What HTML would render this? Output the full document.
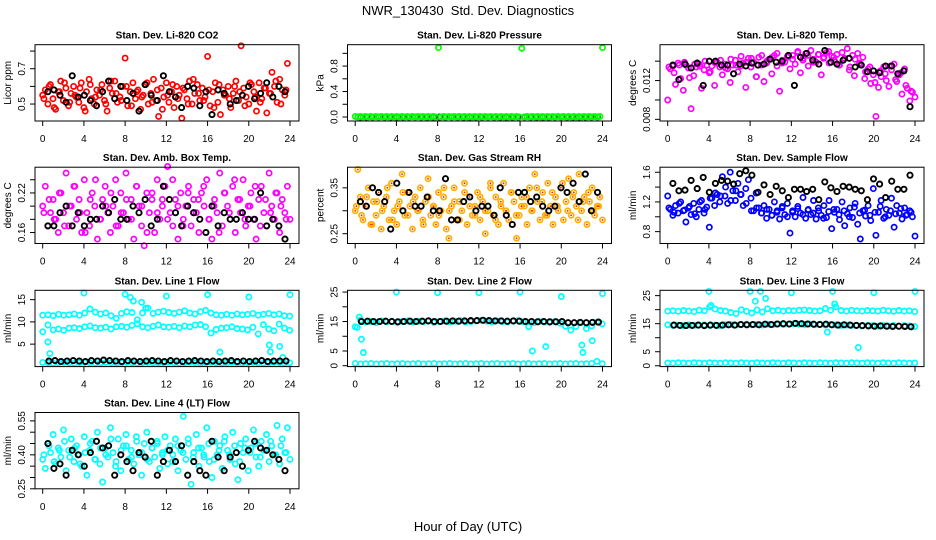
<!DOCTYPE html>
<html><head><meta charset="utf-8"><title>NWR_130430 Std. Dev. Diagnostics</title>
<style>
html,body{margin:0;padding:0;background:#fff;}
svg{display:block;font-family:"Liberation Sans",sans-serif;}
</style></head>
<body>
<svg id="chart" width="936" height="540" viewBox="0 0 936 540">
<text x="468" y="15" font-size="13" text-anchor="middle">NWR_130430&#160; Std. Dev. Diagnostics</text>
<text x="468" y="531" font-size="13" text-anchor="middle">Hour of Day (UTC)</text>
</svg>
<script>
// ---- data (read/estimated from the reference) ----
const xTicks = [0,4,8,12,16,20,24];
const co2Red = [0.55,0.58,0.50,0.61,0.53,0.47,0.57,0.63,0.52,0.59,0.49,0.56,0.60,0.54,0.51,0.62,0.48,0.57,0.64,0.53,0.50,0.58,0.55,0.61,
0.52,0.46,0.59,0.56,0.63,0.51,0.54,0.60,0.76,0.49,0.57,0.62,0.53,0.58,0.47,0.55,0.61,0.50,0.56,0.64,0.52,0.43,0.59,0.54,
0.62,0.51,0.57,0.48,0.60,0.55,0.42,0.58,0.53,0.63,0.50,0.56,0.61,0.52,0.59,0.54,0.77,0.49,0.57,0.62,0.51,0.44,0.58,0.55,
0.60,0.48,0.56,0.63,0.52,0.83,0.59,0.54,0.50,0.61,0.57,0.46,0.62,0.53,0.59,0.45,0.56,0.68,0.60,0.51,0.64,0.58,0.55,0.73];
const co2Red2 = [0.53,0.60,0.48,0.57,0.62,0.51,0.55,0.59,0.46,0.61,0.54,0.58,0.50,0.63,0.56,0.52,0.60,0.49,0.57,0.54,0.62,0.51,0.58,0.47,0.55,0.61,0.53,0.59,0.50,0.64,0.56,0.52,0.58,0.48,0.61,0.55,0.53,0.60,0.57,0.49,0.62,0.54,0.51,0.59,0.56,0.63,0.50,0.58];
const co2Black = [0.57,0.58,0.55,0.51,0.66,0.54,0.55,0.52,0.49,0.57,0.63,0.53,0.60,0.52,0.56,0.46,0.61,0.55,0.52,0.66,0.57,0.54,0.48,0.60,0.59,0.49,0.57,0.44,0.58,0.56,0.50,0.52,0.55,0.60,0.53,0.56,0.62,0.54,0.60,0.57];
const presGreen = [0.01,0.0,0.01,0.0,0.01,0.0,0.01,0.0,0.01,0.0,0.01,0.0,0.01,0.0,0.01,0.0,0.01,0.0,0.01,0.0,0.01,0.0,0.01,0.0,
0.01,0.0,0.01,0.0,0.01,0.0,0.01,0.0,1.09,0.0,0.01,0.0,0.01,0.0,0.01,0.0,0.01,0.0,0.01,0.0,0.01,0.0,0.01,0.0,
0.01,0.0,0.01,0.0,0.01,0.0,0.01,0.0,0.01,0.0,0.01,0.0,0.01,0.0,0.01,0.0,1.08,0.0,0.01,0.0,0.01,0.0,0.01,0.0,
0.01,0.0,0.01,0.0,0.01,0.0,0.01,0.0,0.01,0.0,0.01,0.0,0.01,0.0,0.01,0.0,0.01,0.0,0.01,0.0,0.01,0.0,0.01,1.09];
const presBlack = [0,0,0,0,0,0,0,0,0,0,0,0,0,0,0,0,0,0,0,0,0,0,0,0,0,0,0,0,0,0,0,0,0,0,0,0,0,0,0,0];
// Li-820 temperature, in units of 0.001 degC
const tempMagenta = [10.0,13.2,13.5,11.6,13.8,12.2,11.0,13.6,13.3,9.1,12.5,13.4,13.7,11.2,13.1,13.6,12.8,13.5,11.5,13.9,13.4,12.6,13.7,13.2,
11.8,13.6,14.1,12.9,13.5,13.8,11.3,14.3,13.4,13.9,12.4,14.4,13.6,11.9,13.8,14.2,12.7,14.6,13.5,10.9,14.1,13.9,14.4,13.2,
14.6,13.7,15.0,12.8,14.3,14.8,13.5,15.1,14.2,13.9,14.7,12.6,14.4,14.9,13.8,14.5,14.1,14.7,13.6,14.9,14.3,15.3,13.4,14.6,
14.2,14.8,13.7,14.4,12.9,13.2,11.7,12.6,8.3,11.3,12.4,13.4,12.0,11.4,13.1,13.7,11.9,12.6,10.6,13.2,11.2,9.9,10.8,10.3];
const tempMagenta2 = [13.4,12.8,13.6,13.9,12.3,13.7,13.5,14.0,12.9,13.8,14.1,13.3,14.2,13.6,14.5,13.9,14.3,12.4,14.6,14.0,14.4,14.8,13.8,14.5,14.2,14.9,14.1,14.6,13.9,14.7,14.3,15.0,14.4,13.6,14.2,13.1,12.5,13.8,12.2,13.4,11.8,13.0,12.7,13.5,12.1,12.8,11.5,10.9];
const tempBlack = [13.6,12.1,13.7,13.3,13.8,11.5,14.0,14.0,13.6,13.6,12.7,13.7,13.5,13.8,13.6,13.7,14.2,13.9,14.0,14.6,11.5,14.4,14.8,14.1,13.7,15.1,13.9,13.7,14.1,14.3,13.4,13.6,12.9,13.0,12.8,13.5,13.5,12.7,13.0,9.3];
const ambMagenta = [0.20,0.23,0.17,0.19,0.21,0.18,0.16,0.22,0.19,0.25,0.17,0.20,0.23,0.18,0.21,0.16,0.24,0.19,0.17,0.22,0.20,0.15,0.18,0.21,
0.23,0.19,0.16,0.20,0.24,0.17,0.22,0.19,0.25,0.18,0.21,0.15,0.23,0.20,0.17,0.14,0.22,0.19,0.21,0.16,0.24,0.18,0.20,0.23,
0.26,0.19,0.17,0.21,0.15,0.22,0.18,0.20,0.23,0.17,0.21,0.19,0.16,0.22,0.20,0.24,0.18,0.15,0.21,0.19,0.25,0.17,0.22,0.20,
0.18,0.23,0.16,0.21,0.19,0.24,0.17,0.20,0.22,0.18,0.15,0.21,0.23,0.19,0.17,0.25,0.20,0.18,0.22,0.16,0.21,0.19,0.23,0.18];
const ambMagenta2 = [0.19,0.21,0.18,0.22,0.17,0.20,0.23,0.19,0.16,0.21,0.24,0.18,0.20,0.22,0.17,0.19,0.21,0.18,0.23,0.20,0.16,0.22,0.19,0.21,0.18,0.24,0.20,0.17,0.22,0.19,0.21,0.23,0.18,0.20,0.16,0.22,0.19,0.24,0.21,0.18,0.20,0.23,0.17,0.21,0.19,0.22,0.20,0.18];
const ambBlack = [0.17,0.17,0.19,0.20,0.17,0.19,0.17,0.18,0.18,0.20,0.19,0.21,0.18,0.18,0.20,0.19,0.21,0.17,0.18,0.23,0.21,0.19,0.17,0.20,0.19,0.18,0.16,0.20,0.17,0.19,0.18,0.18,0.19,0.18,0.18,0.22,0.17,0.18,0.17,0.15];
const rhOrange = [0.30,0.39,0.33,0.28,0.31,0.35,0.27,0.32,0.29,0.34,0.26,0.31,0.33,0.28,0.36,0.30,0.27,0.32,0.38,0.29,0.34,0.31,0.26,0.33,
0.30,0.35,0.28,0.32,0.37,0.29,0.31,0.27,0.34,0.30,0.33,0.26,0.24,0.31,0.35,0.28,0.32,0.30,0.36,0.27,0.33,0.29,0.31,0.34,
0.28,0.32,0.25,0.30,0.35,0.29,0.33,0.27,0.31,0.36,0.30,0.28,0.34,0.32,0.24,0.29,0.33,0.31,0.27,0.35,0.30,0.38,0.32,0.28,
0.34,0.29,0.36,0.31,0.27,0.33,0.30,0.35,0.28,0.32,0.37,0.29,0.34,0.31,0.38,0.30,0.33,0.27,0.32,0.35,0.29,0.31,0.33,0.28];
const rhOrange2 = [0.31,0.29,0.33,0.27,0.32,0.30,0.35,0.28,0.31,0.34,0.29,0.32,0.30,0.27,0.33,0.31,0.29,0.35,0.30,0.32,0.28,0.34,0.31,0.29,0.33,0.30,0.36,0.28,0.32,0.30,0.34,0.29,0.31,0.33,0.30,0.35,0.32,0.29,0.34,0.31,0.36,0.30,0.33,0.28,0.32,0.34,0.30,0.31];
const rhBlack = [0.32,0.31,0.35,0.34,0.32,0.26,0.36,0.30,0.34,0.31,0.31,0.33,0.30,0.30,0.37,0.28,0.28,0.32,0.33,0.30,0.31,0.31,0.29,0.35,0.29,0.27,0.34,0.34,0.32,0.33,0.31,0.30,0.31,0.35,0.34,0.36,0.32,0.38,0.30,0.34];
const flowBlue = [1.28,1.10,1.02,1.15,1.05,1.20,1.08,0.93,1.12,1.03,1.18,1.00,1.10,1.22,1.05,1.13,0.86,1.25,1.15,1.30,1.20,1.54,1.28,1.18,
1.60,1.35,1.22,1.45,1.30,1.15,1.38,1.50,1.25,1.08,1.32,1.12,1.05,1.15,0.98,1.10,1.02,1.20,1.06,0.97,1.12,1.03,1.18,0.78,
1.08,1.00,1.14,1.05,1.26,0.98,1.10,1.03,1.22,0.97,1.08,1.02,1.15,0.99,1.22,0.84,1.06,1.10,0.96,1.20,0.88,1.04,1.12,0.99,
1.18,0.90,0.70,1.08,1.01,1.15,0.95,1.38,0.75,1.06,1.22,0.98,1.10,1.02,1.25,0.86,1.15,1.05,0.97,1.12,1.03,1.08,1.00,0.74];
const flowBlue2 = [1.12,1.06,1.18,1.09,1.14,1.04,1.20,1.10,1.25,1.32,1.28,1.40,1.22,1.35,1.30,1.18,1.08,1.12,1.05,1.10,1.02,1.08,1.14,1.00,1.06,1.11,1.03,1.09,1.05,1.12,0.98,1.07,1.10,1.03,1.08,1.00,1.13,1.05,1.09,1.02,1.06,1.14,1.00,1.08,1.04,1.11,1.02,1.06];
const flowBlack = [1.45,1.35,1.36,1.49,1.38,1.53,1.33,1.45,1.49,1.48,1.44,1.58,1.62,1.56,1.33,1.43,1.30,1.41,1.35,1.26,1.37,1.37,1.34,1.37,1.23,1.47,1.39,1.34,1.41,1.40,1.37,1.35,1.23,1.51,1.44,1.26,1.48,1.37,1.37,1.56];
const l1Upper = [11.5,11.6,11.4,11.7,11.5,11.6,11.8,11.5,12.0,12.9,12.2,11.8,12.0,11.4,10.8,11.9,12.3,12.1,10.5,12.0,13.1,11.9,12.2,12.4,12.1,11.9,12.2,12.5,12.0,11.8,12.3,12.6,12.0,11.6,11.5,11.7,11.5,11.8,11.6,11.7,11.9,11.5,11.7,11.9,11.6,11.8,11.4,11.3];
const l1Middle = [7.8,9.3,8.2,8.4,8.1,8.6,8.7,8.5,8.9,9.1,8.7,8.6,8.8,8.4,8.9,9.0,8.8,9.2,9.6,8.9,8.7,9.0,9.3,8.9,8.8,9.0,8.7,9.1,8.9,9.3,9.4,8.9,7.5,8.3,8.6,8.7,8.9,8.5,8.4,8.2,8.8,7.3,9.4,8.4,8.0,9.5,8.6,8.1];
const l1Lower = [0.9,0.8,0.7,0.8,0.9,0.8,0.7,0.8,0.9,0.8,0.7,0.8,0.9,0.8,0.7,0.8,0.9,0.8,0.7,0.8,0.9,0.8,0.7,0.8,0.9,0.8,0.7,0.8,0.9,0.8,0.7,0.8,0.9,0.8,0.7,0.8,0.9,0.8,0.7,0.8,0.9,0.8,0.7,0.8,0.9,0.8,0.7,0.8];
const l1OutHours = [0.5,0.7,4,8,8.5,8.8,9.6,10,12,16,17.2,20,22,22.1,23,23.3,24];
const l1OutVals = [5.5,2.9,16.5,16.2,15.5,14.7,14.4,13.1,15.8,16.1,3.2,15.6,4.8,3.3,4.5,2.0,16.1];
const l1Black = [1.2,1.3,1.1,1.2,1.3,1.2,1.1,1.3,1.2,1.4,1.3,1.2,1.1,1.3,1.2,1.1,1.2,1.3,1.2,1.1,1.3,1.2,1.1,1.2,1.3,1.2,1.1,1.2,1.1,1.2,1.3,1.1,1.2,1.1,1.2,1.3,1.1,1.2,1.2,1.2];
const l2Band = [13.2,15.5,14.8,15.0,14.6,15.2,14.9,15.1,14.7,15.0,15.2,14.8,15.1,14.9,15.3,14.7,15.0,15.2,14.9,15.1,15.3,14.8,15.0,15.2,15.4,15.1,14.9,15.2,15.0,14.8,15.1,15.3,14.9,13.2,14.6,15.0,14.8,14.7,15.0,14.4,13.4,12.1,13.3,14.6,12.6,13.5,14.8,14.2];
const l2Lower = [0.8,0.6,0.7,0.8,0.6,0.7,0.8,0.6,0.7,0.8,0.6,0.7,0.8,0.6,0.7,0.8,0.6,0.7,0.8,0.6,0.7,0.8,0.6,0.7,0.8,0.6,0.7,0.8,0.6,0.7,0.8,0.6,0.7,0.8,0.6,0.7,0.8,0.6,0.7,0.8,0.6,0.7,0.8,0.6,0.7,0.8,1.5,0.7];
const l2OutHours = [0.2,0.4,0.6,0.8,4,8,12,16,17.2,18.5,20,22,22.1,23,24];
const l2OutVals = [13,16.5,9,4.5,25,24.8,24.8,25,5,6.5,23.5,7,4.5,8.5,24.5];
const l2Black = [15.0,15.1,15.0,15.0,15.1,15.0,14.9,15.0,15.1,15.0,15.1,15.2,15.0,15.0,15.1,15.2,15.1,15.2,15.3,15.3,15.4,15.3,15.2,15.2,15.1,15.2,15.1,15.0,15.0,14.9,15.0,14.9,14.9,15.0,14.6,14.6,14.7,14.6,14.7,14.8];
const l3Upper = [19.5,19.6,19.4,19.7,19.5,19.3,19.8,19.6,21.0,20.2,19.7,19.5,19.0,18.6,20.0,19.4,18.8,19.9,19.2,20.3,19.6,19.8,19.5,19.7,19.6,19.8,19.9,19.7,19.5,19.6,20.4,19.8,21.0,19.7,19.5,19.8,19.6,19.5,19.7,19.6,19.5,19.8,19.6,19.4,19.7,19.5,19.6,19.3];
const l3Middle = [14.6,14.4,14.5,14.3,14.6,14.4,14.5,14.6,14.4,14.5,14.3,14.6,14.7,14.5,14.6,14.8,14.6,14.7,14.5,14.8,14.6,14.9,14.7,14.8,15.0,14.8,14.7,14.9,14.6,14.8,14.5,14.7,14.6,14.4,14.5,14.3,14.4,14.2,14.4,14.3,14.1,14.3,14.2,14.4,14.1,14.3,14.2,14.0];
const l3Lower = [1.0,0.9,1.1,1.0,0.9,1.1,1.0,0.9,1.1,1.0,0.9,1.1,1.0,0.9,1.1,1.0,0.9,1.1,1.0,0.9,1.1,1.0,0.9,1.1,1.0,0.9,1.1,1.0,0.9,1.1,1.0,0.9,1.1,1.0,0.9,1.1,1.0,0.9,1.1,1.0,0.9,1.1,1.0,0.9,1.1,1.0,0.9,1.0];
const l3OutHours = [4,4.2,8,8.5,9,9.5,12,15.5,16,16.2,18.5,20,24];
const l3OutVals = [26.5,21.5,26.5,23,26.5,24,26,12,26.5,22,6.5,26,26.5];
const l3Black = [14.5,14.4,14.3,14.4,14.5,14.3,14.5,14.4,14.5,14.6,14.5,14.7,14.6,14.7,14.6,14.8,14.7,14.9,15.0,14.9,15.1,15.0,14.9,14.8,14.7,14.8,14.6,14.5,14.6,14.5,14.4,14.3,14.2,14.1,14.2,14.1,14.0,14.1,14.0,13.9];
const l4Cyan = [0.38,0.34,0.45,0.41,0.49,0.36,0.43,0.39,0.51,0.33,0.42,0.47,0.37,0.44,0.40,0.35,0.48,0.31,0.42,0.46,0.38,0.50,0.36,0.28,
0.43,0.39,0.52,0.41,0.35,0.47,0.33,0.44,0.49,0.38,0.42,0.36,0.48,0.40,0.31,0.45,0.50,0.37,0.43,0.39,0.46,0.34,0.41,0.48,
0.36,0.44,0.40,0.47,0.33,0.42,0.57,0.38,0.45,0.27,0.41,0.49,0.35,0.43,0.39,0.52,0.37,0.30,0.46,0.40,0.44,0.34,0.48,0.42,
0.38,0.50,0.36,0.29,0.45,0.41,0.47,0.33,0.43,0.51,0.39,0.35,0.46,0.42,0.49,0.37,0.44,0.40,0.53,0.36,0.47,0.41,0.52,0.38];
const l4Cyan2 = [0.40,0.44,0.37,0.42,0.46,0.39,0.43,0.36,0.41,0.45,0.38,0.43,0.40,0.47,0.37,0.42,0.44,0.39,0.46,0.41,0.38,0.43,0.45,0.40,0.42,0.37,0.44,0.41,0.47,0.39,0.43,0.40,0.45,0.38,0.42,0.46,0.40,0.44,0.37,0.43,0.41,0.45,0.39,0.42,0.46,0.40,0.44,0.41];
const l4Black = [0.45,0.34,0.36,0.31,0.42,0.40,0.35,0.41,0.46,0.43,0.44,0.31,0.40,0.37,0.33,0.41,0.39,0.46,0.31,0.37,0.42,0.37,0.44,0.31,0.37,0.33,0.31,0.46,0.39,0.33,0.39,0.41,0.35,0.42,0.46,0.43,0.42,0.40,0.38,0.33];

// ---- layout ----
const NS = 'http://www.w3.org/2000/svg';
const svg = document.getElementById('chart');
const colLeft = [35, 347.5, 660];
const rowTop = [44.7, 167.2, 290.3, 412.5];
const boxW = 264, boxH = 76.3;

function mk(tag, attrs, parent) {
  const e = document.createElementNS(NS, tag);
  for (const k in attrs) e.setAttribute(k, attrs[k]);
  (parent || svg).appendChild(e);
  return e;
}

const panels = [
  {name:'co2', col:0,row:0,title:'Stan. Dev. Li-820 CO2',ylab:'Licor ppm',ymin:0.404,ymax:0.836,ticks:[0.5,0.6,0.7,0.8],labels:['0.5','','0.7',''],
   series:[{v:co2Red,t0:0,step:0.25,c:'#ff0000'},{v:co2Red2,t0:0.12,step:0.5,c:'#ff0000'},{v:co2Black,t0:0.5,step:0.59,c:'#000000'}]},
  {name:'pressure', col:1,row:0,title:'Stan. Dev. Li-820 Pressure',ylab:'kPa',ymin:-0.063,ymax:1.136,ticks:[0,0.2,0.4,0.6,0.8,1.0],labels:['0.0','','0.4','','0.8',''],
   series:[{v:presBlack,t0:0.5,step:0.59,c:'#000000'},{v:presGreen,t0:0,step:0.2526,c:'#00ff00'}]},
  {name:'li820-temp', col:2,row:0,title:'Stan. Dev. Li-820 Temp.',ylab:'degrees C',ymin:7.83,ymax:15.7,ticks:[8,10,12,14],labels:['0.008','','0.012',''],
   series:[{v:tempMagenta,t0:0,step:0.2526,c:'#ff00ff'},{v:tempMagenta2,t0:0.12,step:0.5,c:'#ff00ff'},{v:tempBlack,t0:0.5,step:0.59,c:'#000000'}]},
  {name:'amb-box-temp', col:0,row:1,title:'Stan. Dev. Amb. Box Temp.',ylab:'degrees C',ymin:0.1434,ymax:0.259,ticks:[0.16,0.18,0.20,0.22,0.24],labels:['0.16','','','0.22',''],
   series:[{v:ambMagenta,t0:0,step:0.2526,c:'#ff00ff'},{v:ambMagenta2,t0:0.12,step:0.5,c:'#ff00ff'},{v:ambBlack,t0:0.5,step:0.59,c:'#000000'}]},
  {name:'gas-stream-rh', col:1,row:1,title:'Stan. Dev. Gas Stream RH',ylab:'percent',ymin:0.2286,ymax:0.395,ticks:[0.25,0.30,0.35],labels:['0.25','','0.35'],
   series:[{v:rhOrange,t0:0,step:0.2526,c:'#ffb000',dot:'#ff2000'},{v:rhOrange2,t0:0.12,step:0.5,c:'#ffb000',dot:'#ff2000'},{v:rhBlack,t0:0.5,step:0.59,c:'#000000'}]},
  {name:'sample-flow', col:2,row:1,title:'Stan. Dev. Sample Flow',ylab:'ml/min',ymin:0.64,ymax:1.668,ticks:[0.8,1.0,1.2,1.4,1.6],labels:['0.8','','1.2','','1.6'],
   series:[{v:flowBlue,t0:0,step:0.2526,c:'#0000ff'},{v:flowBlue2,t0:0.12,step:0.5,c:'#0000ff'},{v:flowBlack,t0:0.5,step:0.59,c:'#000000'}]},
  {name:'line1-flow', col:0,row:2,title:'Stan. Dev. Line 1 Flow',ylab:'ml/min',ymin:-0.05,ymax:17.1,ticks:[5,10,15],labels:['5','10','15'],
   series:[{v:l1Upper,t0:0,step:0.51,c:'#00ffff'},{v:l1Middle,t0:0,step:0.51,c:'#00ffff'},{v:l1Lower,t0:0,step:0.51,c:'#00ffff'},
           {v:l1OutVals,h:l1OutHours,c:'#00ffff'},{v:l1Black,t0:0.6,step:0.59,c:'#000000'}]},
  {name:'line2-flow', col:1,row:2,title:'Stan. Dev. Line 2 Flow',ylab:'ml/min',ymin:-0.3,ymax:25.6,ticks:[0,5,10,15,20,25],labels:['0','5','','15','','25'],
   series:[{v:l2Band,t0:0,step:0.51,c:'#00ffff'},{v:l2Lower,t0:0,step:0.51,c:'#00ffff'},
           {v:l2OutVals,h:l2OutHours,c:'#00ffff'},{v:l2Black,t0:0.6,step:0.59,c:'#000000'}]},
  {name:'line3-flow', col:2,row:2,title:'Stan. Dev. Line 3 Flow',ylab:'ml/min',ymin:-0.3,ymax:26.9,ticks:[0,5,10,15,20,25],labels:['0','5','','15','','25'],
   series:[{v:l3Upper,t0:0,step:0.51,c:'#00ffff'},{v:l3Middle,t0:0,step:0.51,c:'#00ffff'},{v:l3Lower,t0:0,step:0.51,c:'#00ffff'},
           {v:l3OutVals,h:l3OutHours,c:'#00ffff'},{v:l3Black,t0:0.6,step:0.59,c:'#000000'}]},
  {name:'line4-flow', col:0,row:3,title:'Stan. Dev. Line 4 (LT) Flow',ylab:'ml/min',ymin:0.25,ymax:0.587,ticks:[0.25,0.30,0.35,0.40,0.45,0.50,0.55],labels:['0.25','','','0.40','','','0.55'],
   series:[{v:l4Cyan,t0:0,step:0.2526,c:'#00ffff'},{v:l4Cyan2,t0:0.12,step:0.5,c:'#00ffff'},{v:l4Black,t0:0.5,step:0.59,c:'#000000'}]}
];

panels.forEach(p => {
  const L = colLeft[p.col], T = rowTop[p.row], B = T + boxH, R = L + boxW;
  const x0 = L + 7.7, xs = (boxW - 16.7) / 24;
  const xScale = h => x0 + h * xs;
  const yScale = v => B - (v - p.ymin) / (p.ymax - p.ymin) * boxH;
  const g = mk('g', {});
  
  

  const t = mk('text', {x: (L + R) / 2, y: T - 6, 'font-size': 10, 'font-weight': 'bold', 'text-anchor': 'middle'}, g);
  t.textContent = p.title;
  
  

  const yl = mk('text', {x: 0, y: 0, 'font-size': 10, 'text-anchor': 'middle', transform: `translate(${L - 24},${(T + B) / 2}) rotate(-90)`}, g);
  yl.textContent = p.ylab;
  
  

  const mg = mk('g', {fill: 'none', 'stroke-width': 1.7}, g);
  
  
  p.series.forEach(s => {
    s.v.forEach((val, i) => {
      const hr = s.h ? s.h[i] : s.t0 + i * s.step;
      if (hr > 24.01) return;
      const cx = xScale(hr), cy = yScale(val);
      const c = mk('circle', {cx: cx.toFixed(1), cy: cy.toFixed(1), r: 2.6, stroke: s.c, 'stroke-width': s.c === '#000000' ? 1.9 : 1.7}, mg);
      
      
      if (s.dot) {
        const d = mk('circle', {cx: cx.toFixed(1), cy: cy.toFixed(1), r: 0.9, fill: s.dot, stroke: 'none'}, mg);
        
        
      }
    });
  });

  const box = mk('rect', {x: L, y: T, width: boxW, height: boxH, fill: 'none', stroke: '#000', 'stroke-width': 1}, g);
  
  

  xTicks.forEach(h => {
    const x = xScale(h);
    const tk = mk('line', {x1: x, x2: x, y1: B, y2: B + 5, stroke: '#000'}, g);
    
    
    const lb = mk('text', {x: x, y: B + 21, 'font-size': 10, 'text-anchor': 'middle'}, g);
    lb.textContent = h;
    
    
  });
  p.ticks.forEach((v, i) => {
    const y = yScale(v);
    const tk = mk('line', {x1: L - 5, x2: L, y1: y, y2: y, stroke: '#000'}, g);
    
    
    if (p.labels[i]) {
      const lb = mk('text', {x: 0, y: 0, 'font-size': 10, 'text-anchor': 'middle', transform: `translate(${L - 10},${y}) rotate(-90)`}, g);
      lb.textContent = p.labels[i];
      
      
    }
  });
});
</script>
</body></html>
